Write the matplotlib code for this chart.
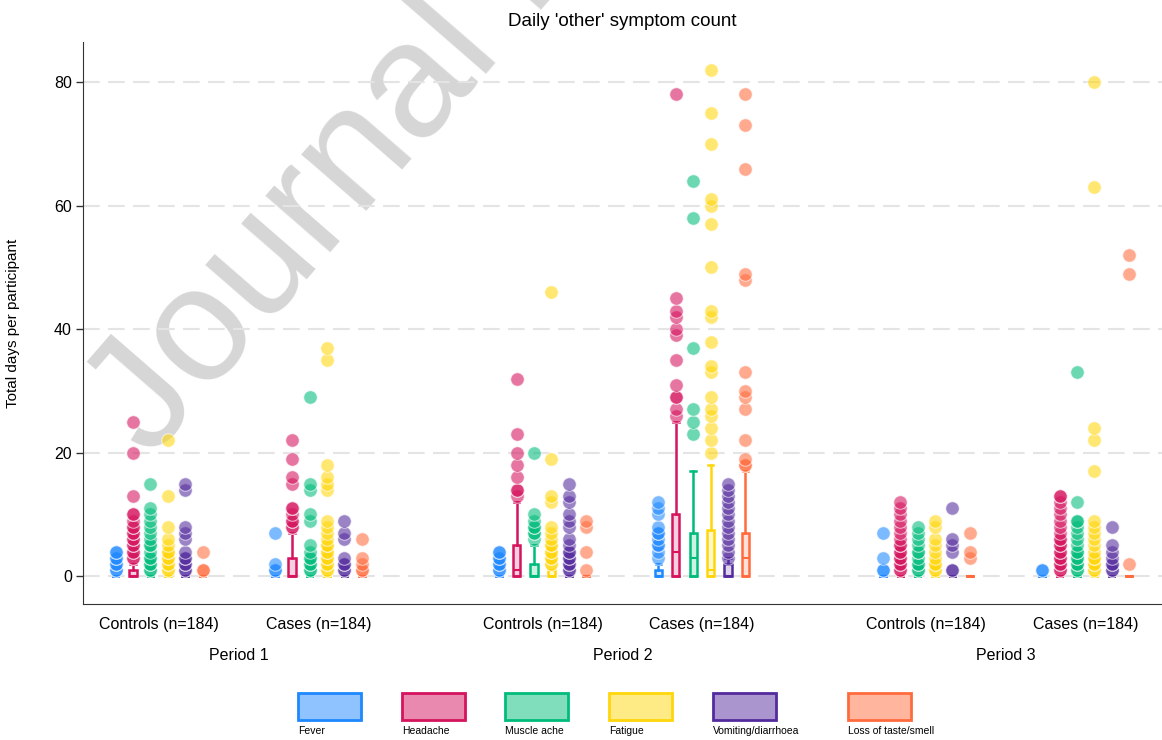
import matplotlib
matplotlib.use("Agg")
import matplotlib.pyplot as plt
from matplotlib.colors import to_rgb
from matplotlib.patches import Rectangle

plt.rcParams["font.family"] = ["Liberation Sans", "DejaVu Sans"]

# groups: (period, controls/cases)
group_labels = ["Controls (n=184)", "Cases (n=184)"] * 3
period_labels = ["Period 1", "Period 2", "Period 3"]
symptoms = ["Fever", "Headache", "Muscle ache", "Fatigue",
            "Vomiting/diarrhoea", "Loss of taste/smell"]
colors = ["#1E88FF", "#D5135E", "#00BC7A", "#FFD60A", "#542B9E", "#FF6B3D"]

# points shown for each symptom, one list per group (P1 ctrl, P1 case, P2 ctrl, ...)
fever = [
    [1, 1, 2, 2, 3, 3, 4, 4],
    [1, 1, 2, 7],
    [1, 1, 2, 2, 3, 3, 4, 4],
    [3, 4, 5, 5, 6, 7, 7, 8, 10, 11, 12],
    [1, 1, 3, 7],
    [1, 1],
]
headache = [
    [3, 3, 4, 4, 5, 5, 6, 6, 7, 7, 8, 8, 9, 10, 10, 13, 20, 25],
    [8, 8, 9, 9, 10, 11, 11, 15, 16, 19, 22],
    [13, 14, 14, 16, 18, 20, 23, 32],
    [26, 27, 29, 29, 31, 35, 39, 40, 42, 43, 45, 78],
    [1, 1, 2, 2, 3, 3, 4, 4, 5, 5, 6, 7, 8, 9, 10, 11, 12],
    [1, 1, 2, 2, 3, 3, 4, 4, 5, 5, 6, 6, 7, 8, 9, 10, 11, 12, 13, 13],
]
muscle_ache = [
    [1, 1, 2, 2, 3, 3, 4, 5, 5, 6, 7, 8, 9, 10, 11, 15],
    [1, 1, 2, 2, 3, 3, 4, 5, 9, 10, 14, 15, 29],
    [6, 7, 7, 8, 8, 9, 10, 20],
    [23, 25, 27, 37, 58, 64],
    [1, 1, 2, 2, 3, 4, 4, 5, 6, 7, 8],
    [1, 1, 2, 2, 3, 3, 4, 4, 5, 6, 7, 8, 9, 9, 12, 33],
]
fatigue = [
    [1, 1, 2, 2, 3, 3, 4, 4, 5, 6, 8, 13, 22],
    [1, 1, 2, 2, 3, 3, 4, 4, 5, 5, 6, 7, 8, 9, 14, 15, 16, 18, 35, 37],
    [2, 2, 3, 3, 4, 4, 5, 5, 6, 7, 8, 12, 13, 19, 46],
    [20, 22, 24, 26, 27, 29, 33, 34, 38, 42, 43, 50, 57, 60, 61, 70, 75, 82],
    [1, 1, 2, 2, 3, 4, 5, 6, 8, 9],
    [1, 1, 2, 2, 3, 3, 4, 5, 6, 7, 8, 9, 17, 22, 24, 63, 80],
]
vomiting = [
    [1, 1, 2, 2, 3, 3, 4, 6, 7, 8, 14, 15],
    [1, 1, 2, 2, 3, 6, 7, 9],
    [1, 1, 2, 2, 3, 3, 4, 4, 5, 6, 8, 9, 10, 12, 13, 15],
    [3, 4, 5, 6, 7, 8, 9, 10, 11, 12, 13, 14, 15],
    [1, 1, 4, 5, 6, 11],
    [1, 1, 2, 2, 3, 4, 5, 8],
]
loss_taste = [
    [1, 1, 4],
    [1, 1, 2, 3, 6],
    [1, 4, 8, 9],
    [18, 18, 19, 22, 27, 29, 30, 33, 48, 49, 66, 73, 78],
    [3, 4, 7],
    [2, 49, 52],
]

# box stats (q1, median, q3, upper whisker) per group
fever_box = [(0, 0, 0, 0), (0, 0, 0, 0), (0, 0, 0, 0), (0, 0, 1, 2), (0, 0, 0, 0), (0, 0, 0, 0)]
headache_box = [(0, 0, 1, 2), (0, 0, 3, 7), (0, 1, 5, 12), (0, 4, 10, 25), (0, 0, 0, 0), (0, 0, 0, 0)]
muscle_box = [(0, 0, 0, 0), (0, 0, 0, 0), (0, 0, 2, 5), (0, 3, 7, 17), (0, 0, 0, 0), (0, 0, 0, 0)]
fatigue_box = [(0, 0, 0, 0), (0, 0, 0, 0), (0, 0, 1, 1), (0, 1, 7.5, 18), (0, 0, 0, 0), (0, 0, 0, 0)]
vomiting_box = [(0, 0, 0, 0), (0, 0, 0, 0), (0, 0, 0, 0), (0, 0, 2, 3), (0, 0, 0, 0), (0, 0, 0, 0)]
loss_box = [(0, 0, 0, 0), (0, 0, 0, 0), (0, 0, 0, 0), (0, 3, 7, 17), (0, 0, 0, 0), (0, 0, 0, 0)]

points = [fever, headache, muscle_ache, fatigue, vomiting, loss_taste]
boxes = [fever_box, headache_box, muscle_box, fatigue_box, vomiting_box, loss_box]


def lighten(c, f=0.5):
    r, g, b = to_rgb(c)
    return (r + (1 - r) * f, g + (1 - g) * f, b + (1 - b) * f)


W, H = 1162, 740
fig = plt.figure(figsize=(W / 100, H / 100), dpi=100)
ax = fig.add_axes([83 / W, 136 / H, 1079 / W, 562 / H])
ax.patch.set_visible(False)

# watermark
fig.text(150 / W, 1 - 460 / H, "Journal Pre-proof", fontsize=118, color="#d6d6d6",
         rotation=49, rotation_mode="anchor", ha="left", va="baseline", zorder=-5)

centers = [p * 22.05 + k * 9.15 for p in range(3) for k in range(2)]

for s in range(len(symptoms)):
    c = colors[s]
    for g, cx in enumerate(centers):
        x = cx + (s - 2.5)
        q1, med, q3, hi = boxes[s][g]
        stats = [dict(q1=q1, med=med, q3=q3, whislo=q1, whishi=hi, fliers=[])]
        ax.bxp(stats, positions=[x], widths=0.42, patch_artist=True, showfliers=False,
               manage_ticks=False, capwidths=0.32,
               boxprops=dict(facecolor=lighten(c, 0.8), edgecolor=c, linewidth=1.8),
               whiskerprops=dict(color=c, linewidth=1.8),
               capprops=dict(color=c, linewidth=1.8),
               medianprops=dict(color=c, linewidth=1.5))
        vals = points[s][g]
        ax.scatter([x] * len(vals), vals, s=95, color=c, alpha=0.58,
                   edgecolors="white", linewidths=0.8, zorder=3)

ax.set_xlim(-4.37, 57.64)
ax.set_ylim(-4.5, 86.5)
ax.set_yticks([0, 20, 40, 60, 80])
ax.yaxis.grid(True, color="#e4e4e4", linewidth=1.5, linestyle=(0, (8, 4)))
ax.set_axisbelow(True)
ax.tick_params(axis="y", labelsize=11.5, length=5, width=1, color="#333333", pad=3)
ax.set_xticks(centers)
ax.set_xticklabels(group_labels, fontsize=11.5)
ax.tick_params(axis="x", length=0, pad=9)
for sp in ["top", "right"]:
    ax.spines[sp].set_visible(False)
ax.spines["left"].set_color("#333333")
ax.spines["bottom"].set_color("#333333")

for i, lab in enumerate(period_labels):
    xm = (centers[2 * i] + centers[2 * i + 1]) / 2
    ax.text(xm, -(655 - 604) / 562, lab, transform=ax.get_xaxis_transform(),
            ha="center", va="center", fontsize=11.5)

ax.set_ylabel("Total days per participant", fontsize=11)
ax.yaxis.set_label_coords((20 - 83) / 1079, 0.5)

fig.text(622 / W, 1 - 22 / H, "Daily 'other' symptom count", ha="center",
         va="center", fontsize=13.5)

# legend below the plot
leg_x = [298, 402, 505, 609, 713, 848]
for x0, name, c in zip(leg_x, symptoms, colors):
    fig.patches.append(Rectangle((x0 / W, 1 - 720 / H), 63 / W, 27 / H,
                                 transform=fig.transFigure, facecolor=lighten(c, 0.5),
                                 edgecolor=c, linewidth=2))
    fig.text(x0 / W, 1 - 731 / H, name, fontsize=7.5, ha="left", va="center")

fig.savefig("out.png", dpi=100)
